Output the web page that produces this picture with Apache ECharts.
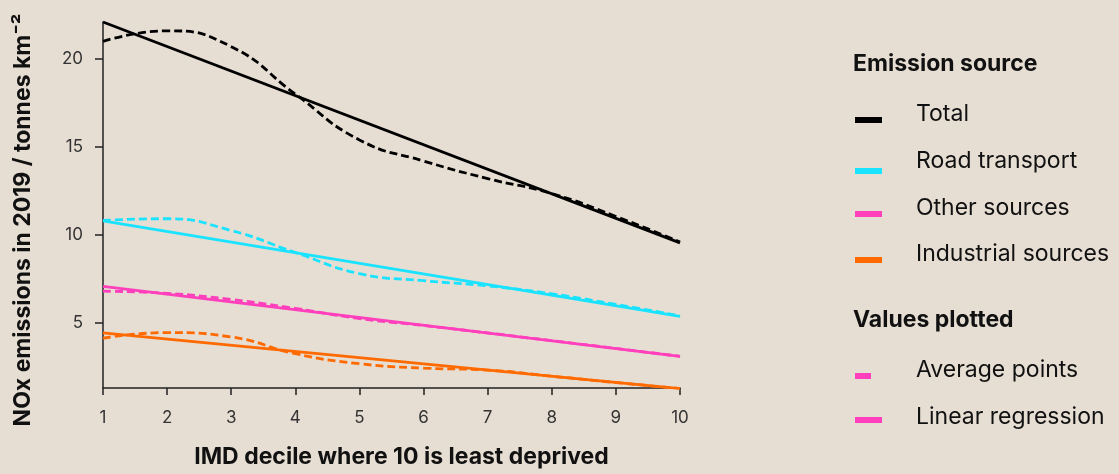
<!DOCTYPE html>
<html>
<head>
<meta charset="utf-8">
<script src="https://cdn.jsdelivr.net/npm/echarts@6/dist/echarts.min.js"></script>
<style>
  html, body { margin: 0; padding: 0; background: #e6ddd3; }
  #chart { width: 1119px; height: 474px; }
</style>
</head>
<body>
<div id="chart"></div>
<script>
// IMD deciles (x) and the two ends of each regression line
const deciles = [1, 2, 3, 4, 5, 6, 7, 8, 9, 10]
const fitDeciles = [1, 10]
const yTicks = [5, 10, 15, 20]

// average points per decile (dashed) and linear regression ends (solid)
const totalAvg = [21.0, 21.6, 20.7, 18.0, 15.4, 14.2, 13.2, 12.35, 11.05, 9.6]
const totalFit = [22.1, 9.55]
const roadAvg = [10.82, 10.92, 10.25, 9.0, 7.8, 7.4, 7.1, 6.65, 6.05, 5.4]
const roadFit = [10.8, 5.37]
const otherAvg = [6.8, 6.68, 6.33, 5.82, 5.25, 4.85, 4.43, 3.99, 3.55, 3.1]
const otherFit = [7.07, 3.1]
const industrialAvg = [4.13, 4.45, 4.2, 3.25, 2.68, 2.43, 2.32, 1.97, 1.61, 1.27]
const industrialFit = [4.43, 1.27]

const sources = ['Total', 'Road transport', 'Other sources', 'Industrial sources']
const plotted = ['Average points', 'Linear regression']

const colors = {
  'Total': '#000000',
  'Road transport': '#19e3ff',
  'Other sources': '#ff3fbb',
  'Industrial sources': '#ff6a00'
}
const font = 'Inter, "Liberation Sans", Arial, sans-serif'

function avgSeries (name, values) {
  return {
    name: name,
    type: 'line',
    data: deciles.map((d, i) => [d, values[i]]),
    smooth: 0.5,
    symbol: 'none',
    silent: true,
    lineStyle: { color: colors[name], width: 2.8, type: [8, 4] }
  }
}
function fitSeries (name, values) {
  return {
    name: name,
    type: 'line',
    data: fitDeciles.map((d, i) => [d, values[i]]),
    symbol: 'none',
    silent: true,
    lineStyle: { color: colors[name], width: 2.8 }
  }
}

// legend drawn as graphic elements (two groups with headings)
let legend = []
function legendText (text, y, bold) {
  legend.push({
    type: 'text', left: bold ? 853 : 916, top: y,
    style: { text: text, font: (bold ? 'bold 23px ' : '23px ') + font, fill: '#111', verticalAlign: 'middle' }
  })
}
function legendIcon (y, w, color) {
  legend.push({ type: 'rect', shape: { x: 855, y: y, width: w, height: 6 }, style: { fill: color } })
}
legendText('Emission source', 53, true)
const srcY = [103, 150, 197, 243]
const srcIcon = [117, 168, 211, 257]
sources.forEach((s, i) => {
  legendText(s, srcY[i], false)
  legendIcon(srcIcon[i], 27, colors[s])
})
legendText('Values plotted', 309, true)
legendText(plotted[0], 359, false)
legendIcon(373, 16, colors['Other sources'])
legendText(plotted[1], 406, false)
legendIcon(417, 27, colors['Other sources'])

let chart = echarts.init(document.getElementById('chart'))
chart.setOption({
  backgroundColor: '#e6ddd3',
  animation: false,
  grid: { left: 103, right: 439, top: 22, bottom: 84 },
  xAxis: {
    type: 'value', min: 1, max: 10, interval: 1,
    name: 'IMD decile where 10 is least deprived',
    nameLocation: 'middle', nameGap: 58,
    nameTextStyle: { fontFamily: font, fontWeight: 'bold', fontSize: 23, color: '#111', padding: [0, 0, 0, 20] },
    axisLine: { show: true, lineStyle: { color: '#222', width: 1.5 } },
    axisTick: { show: true, length: 7, lineStyle: { color: '#222', width: 1.5 } },
    axisLabel: { margin: 21, fontFamily: font, fontSize: 17, color: '#333' },
    splitLine: { show: false }
  },
  yAxis: {
    type: 'value', min: 1.3, max: 22.1,
    name: 'NOx emissions in 2019 / tonnes km⁻²',
    nameLocation: 'middle', nameGap: 68,
    nameTextStyle: { fontFamily: font, fontWeight: 'bold', fontSize: 23, color: '#111', padding: [0, 30, 0, 0] },
    axisLine: { show: true, lineStyle: { color: '#222', width: 1.5 } },
    axisTick: { show: true, length: 8, customValues: yTicks, lineStyle: { color: '#222', width: 1.5 } },
    axisLabel: { margin: 20, fontFamily: font, fontSize: 17, color: '#333', customValues: yTicks },
    splitLine: { show: false }
  },
  graphic: legend,
  series: [
    avgSeries('Industrial sources', industrialAvg),
    fitSeries('Industrial sources', industrialFit),
    avgSeries('Other sources', otherAvg),
    fitSeries('Other sources', otherFit),
    avgSeries('Road transport', roadAvg),
    fitSeries('Road transport', roadFit),
    fitSeries('Total', totalFit),
    avgSeries('Total', totalAvg)
  ]
})
</script>
</body>
</html>
